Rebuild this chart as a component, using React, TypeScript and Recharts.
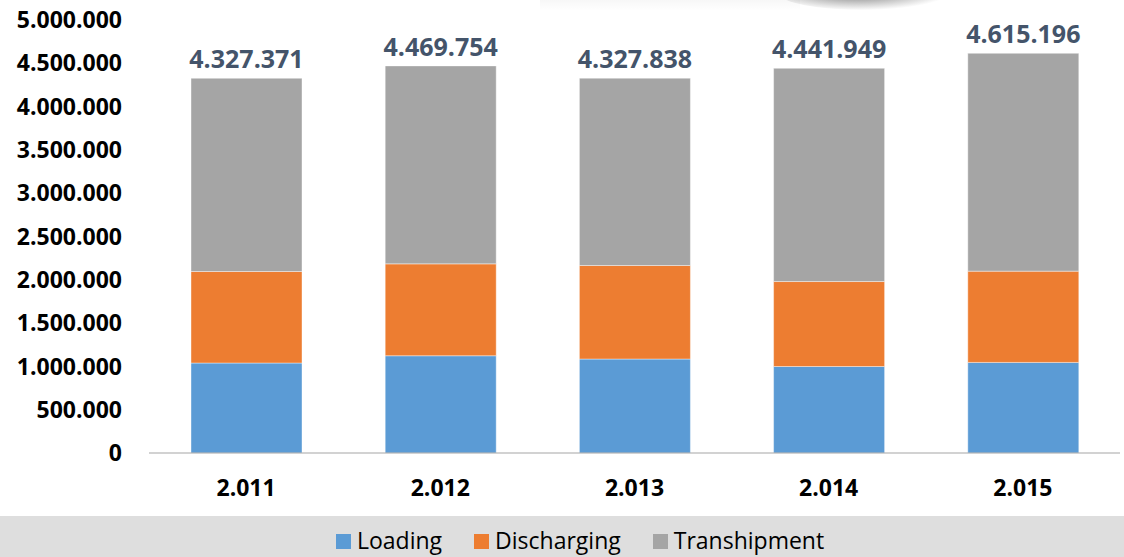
import { BarChart, Bar, XAxis, YAxis, Legend, LabelList } from "recharts";

const years = ["2.011", "2.012", "2.013", "2.014", "2.015"];
const loading = [1039000, 1123000, 1085000, 999000, 1046000];
const discharging = [1057000, 1061000, 1080000, 981000, 1054000];
const transhipment = [2231000, 2286000, 2163000, 2462000, 2515000];
const totals = [4327371, 4469754, 4327838, 4441949, 4615196];
const yTicks = [0, 500000, 1000000, 1500000, 2000000, 2500000, 3000000, 3500000, 4000000, 4500000, 5000000];

const series = [
  { key: "Loading", values: loading, color: "#5b9bd5" },
  { key: "Discharging", values: discharging, color: "#ed7d31" },
  { key: "Transhipment", values: transhipment, color: "#a5a5a5" },
];

const data = years.map((year, i) => ({
  year,
  Loading: loading[i],
  Discharging: discharging[i],
  Transhipment: transhipment[i],
  total: totals[i],
}));

// 4327371 -> "4.327.371"
const dots = (v: number) => String(Math.round(v)).replace(/\B(?=(\d{3})+(?!\d))/g, ".");

const LegendBand = () => (
  <div
    style={{
      width: 1124,
      height: 41,
      background: "#dedede",
      overflow: "hidden",
      boxSizing: "border-box",
      paddingTop: 13,
      paddingLeft: 336,
      display: "flex",
      alignItems: "flex-start",
    }}
  >
    {series.map((s) => (
      <div key={s.key} style={{ display: "flex", alignItems: "flex-start", marginRight: 32 }}>
        <span style={{ width: 15, height: 15, background: s.color, marginTop: 4.5, marginRight: 6 }} />
        <span style={{ fontSize: 23, lineHeight: "22px", color: "#000" }}>{s.key}</span>
      </div>
    ))}
  </div>
);

const App = () => {
  return (
    <div
      style={{
        position: "absolute",
        left: 0,
        top: 0,
        width: 1124,
        height: 557,
        background: "#fff",
        fontFamily: "'Open Sans', sans-serif",
        overflow: "hidden",
      }}
    >
      {/* faint page-curl shadow at the top */}
      <div
        style={{
          position: "absolute",
          left: 540,
          top: 0,
          width: 260,
          height: 11,
          background: "linear-gradient(to bottom, rgba(0,0,0,0.03), rgba(0,0,0,0))",
        }}
      />
      <div
        style={{
          position: "absolute",
          left: 780,
          top: -22,
          width: 170,
          height: 32,
          borderRadius: "50%",
          background: "radial-gradient(ellipse at 45% 40%, rgba(60,60,60,0.75), rgba(120,120,120,0.25) 55%, rgba(255,255,255,0) 72%)",
        }}
      />
      <BarChart
        width={1124}
        height={557}
        data={data}
        margin={{ top: 20, right: 4, left: 0, bottom: 0 }}
      >
        <XAxis
          dataKey="year"
          height={63}
          tickLine={false}
          tickSize={0}
          tickMargin={27}
          axisLine={{ stroke: "#a6a6a6", strokeWidth: 1.2 }}
          tick={{ fill: "#000", fontSize: 23, fontWeight: 700 }}
        />
        <YAxis
          width={149}
          domain={[0, 5000000]}
          ticks={yTicks}
          interval={0}
          axisLine={false}
          tickLine={false}
          tickSize={0}
          tickMargin={27}
          tickFormatter={dots}
          tick={{ fill: "#000", fontSize: 23, fontWeight: 700 }}
        />
        <Legend
          verticalAlign="bottom"
          wrapperStyle={{ left: 0, bottom: 0, width: 1124 }}
          content={<LegendBand />}
        />
        {series.map((s, i) => (
          <Bar
            key={s.key}
            dataKey={s.key}
            stackId="a"
            fill={s.color}
            barSize={111}
            stroke="#ffffff"
            strokeOpacity={0.4}
            strokeWidth={1}
            isAnimationActive={false}
          >
            {i === series.length - 1 && (
              <LabelList
                dataKey="total"
                position="top"
                offset={10}
                formatter={(v: any) => dots(Number(v))}
                fill="#44546a"
                fontSize={25}
                fontWeight={700}
              />
            )}
          </Bar>
        ))}
      </BarChart>
    </div>
  );
};

export default App;
